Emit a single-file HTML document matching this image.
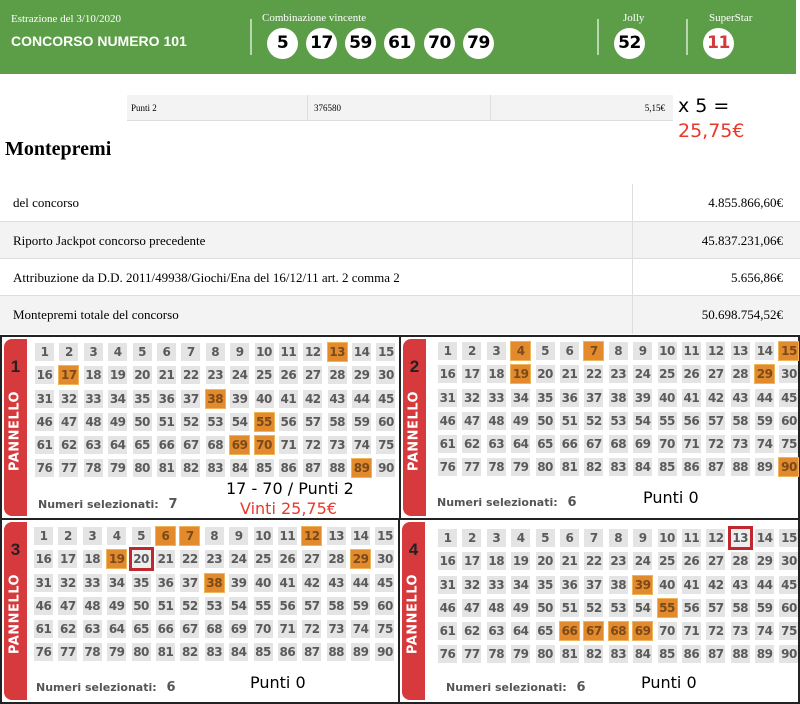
<!DOCTYPE html><html><head><meta charset="utf-8"><style>
*{margin:0;padding:0;box-sizing:border-box}
body{width:800px;height:702px;position:relative;background:#fff;overflow:hidden;font-family:"Liberation Serif",serif}
.a{position:absolute}
.hdr{left:0;top:0;width:796px;height:74px;background:#5c9e47;color:#fff}
.ball{position:absolute;width:31px;height:31px;border-radius:50%;background:#fff;color:#000;font:bold 17px "DejaVu Sans",sans-serif;text-align:center;line-height:31px;top:28px;letter-spacing:-.5px}
.dv{position:absolute;width:2px;background:#b9d7ae;top:19px;height:36px}
.pt{left:127px;top:95px;width:546px;height:26px;background:#f3f3f3;border-bottom:1px solid #ddd;font-size:9px}
.mt{left:0;width:800px;height:37px;font-size:13px;border-top:1px solid #ddd}
.mt span{position:absolute;left:13px;top:11px}
.mt b{position:absolute;right:17px;top:11px;font-weight:normal}
.mt i{position:absolute;left:632px;top:0;bottom:0;width:1px;background:#ddd}
.p{position:absolute;border:2px solid #222;background:#fff}
.tab{position:absolute;left:2px;top:2px;width:23px;bottom:2px;background:#d63a3c;border-radius:8px 0 0 8px}
.tab b{position:absolute;top:18px;width:100%;text-align:center;font:bold 17px "Liberation Sans",sans-serif;color:#222}
.tab em{position:absolute;left:11px;top:92px;transform:translate(-50%,-50%) rotate(-90deg);font:bold 13px "DejaVu Sans",sans-serif;color:#fff;font-style:normal;letter-spacing:.5px}
.g{position:absolute;display:grid;grid-template-columns:repeat(15,19px);column-gap:5.4px;row-gap:5.3px}
.g i{display:block;width:19px;height:18px;background:#e4e4e4;color:#5a5a5a;font:bold 12px "DejaVu Sans",sans-serif;font-style:normal;text-align:center;line-height:18px;letter-spacing:-.5px}
.g i.o{background:#e38a2d;color:#7a4a1a;box-shadow:0 0 0 1px #f0b55a}
.g i.r{box-shadow:0 0 0 3px #c0282e;background:#eee}
.ns{position:absolute;font:bold 11px "DejaVu Sans",sans-serif;color:#555}
.ns span{font-size:13px;margin-left:6px}
.big{position:absolute;font:16px "DejaVu Sans","Liberation Sans",sans-serif;color:#000}
</style></head><body>
<div class="a hdr">
<div class="a" style="left:11px;top:13px;font-size:11px">Estrazione del 3/10/2020</div>
<div class="a" style="left:11px;top:33px;font:bold 14px 'Liberation Sans',sans-serif">CONCORSO NUMERO 101</div>
<div class="dv" style="left:250px"></div>
<div class="a" style="left:262px;top:12px;font-size:11px">Combinazione vincente</div>
<div class="ball" style="left:267px">5</div><div class="ball" style="left:306px">17</div><div class="ball" style="left:345px">59</div><div class="ball" style="left:384px">61</div><div class="ball" style="left:424px">70</div><div class="ball" style="left:463px">79</div>
<div class="dv" style="left:597px"></div>
<div class="a" style="left:623px;top:12px;font-size:11px">Jolly</div>
<div class="ball" style="left:614px">52</div>
<div class="dv" style="left:686px"></div>
<div class="a" style="left:709px;top:12px;font-size:11px">SuperStar</div>
<div class="ball" style="left:703px;color:#d43a3a">11</div>
</div>
<div class="a pt"><span class="a" style="left:4px;top:8px">Punti 2</span><i class="a" style="left:180px;top:0;bottom:0;width:1px;background:#ddd"></i><span class="a" style="left:187px;top:8px">376580</span><i class="a" style="left:363px;top:0;bottom:0;width:1px;background:#ddd"></i><span class="a" style="right:8px;top:8px">5,15€</span></div>
<div class="a" style="left:678px;top:95px;font:19px 'DejaVu Sans',sans-serif">x 5 =</div>
<div class="a" style="left:678px;top:120px;font:19px 'DejaVu Sans',sans-serif;color:#e8392a">25,75€</div>
<div class="a" style="left:5px;top:138px;font-weight:bold;font-size:20px">Montepremi</div>
<div class="a mt" style="top:184px;border-top:none"><span>del concorso</span><b>4.855.866,60€</b><i></i></div>
<div class="a mt" style="top:221px;background:#f3f3f3"><span>Riporto Jackpot concorso precedente</span><b>45.837.231,06€</b><i></i></div>
<div class="a mt" style="top:258px"><span>Attribuzione da D.D. 2011/49938/Giochi/Ena del 16/12/11 art. 2 comma 2</span><b>5.656,86€</b><i></i></div>
<div class="a mt" style="top:295px;background:#f3f3f3;height:39px"><span>Montepremi totale del concorso</span><b>50.698.754,52€</b><i></i></div>

<div class="p" style="left:0;top:335px;width:401px;height:185px">
<div class="tab"><b>1</b><em>PANNELLO</em></div>
<div class="g" style="left:33px;top:6px"><i>1</i><i>2</i><i>3</i><i>4</i><i>5</i><i>6</i><i>7</i><i>8</i><i>9</i><i>10</i><i>11</i><i>12</i><i class="o">13</i><i>14</i><i>15</i><i>16</i><i class="o">17</i><i>18</i><i>19</i><i>20</i><i>21</i><i>22</i><i>23</i><i>24</i><i>25</i><i>26</i><i>27</i><i>28</i><i>29</i><i>30</i><i>31</i><i>32</i><i>33</i><i>34</i><i>35</i><i>36</i><i>37</i><i class="o">38</i><i>39</i><i>40</i><i>41</i><i>42</i><i>43</i><i>44</i><i>45</i><i>46</i><i>47</i><i>48</i><i>49</i><i>50</i><i>51</i><i>52</i><i>53</i><i>54</i><i class="o">55</i><i>56</i><i>57</i><i>58</i><i>59</i><i>60</i><i>61</i><i>62</i><i>63</i><i>64</i><i>65</i><i>66</i><i>67</i><i>68</i><i class="o">69</i><i class="o">70</i><i>71</i><i>72</i><i>73</i><i>74</i><i>75</i><i>76</i><i>77</i><i>78</i><i>79</i><i>80</i><i>81</i><i>82</i><i>83</i><i>84</i><i>85</i><i>86</i><i>87</i><i>88</i><i class="o">89</i><i>90</i></div>
<div class="ns" style="left:36px;top:160px">Numeri selezionati: <span>7</span></div>
<div class="big" style="left:224px;top:142px">17 - 70 / Punti 2</div>
<div class="big" style="left:238px;top:162px;color:#e8392a">Vinti 25,75€</div>
</div>

<div class="p" style="left:399px;top:335px;width:401px;height:185px">
<div class="tab"><b>2</b><em>PANNELLO</em></div>
<div class="g" style="left:37px;top:5px"><i>1</i><i>2</i><i>3</i><i class="o">4</i><i>5</i><i>6</i><i class="o">7</i><i>8</i><i>9</i><i>10</i><i>11</i><i>12</i><i>13</i><i>14</i><i class="o">15</i><i>16</i><i>17</i><i>18</i><i class="o">19</i><i>20</i><i>21</i><i>22</i><i>23</i><i>24</i><i>25</i><i>26</i><i>27</i><i>28</i><i class="o">29</i><i>30</i><i>31</i><i>32</i><i>33</i><i>34</i><i>35</i><i>36</i><i>37</i><i>38</i><i>39</i><i>40</i><i>41</i><i>42</i><i>43</i><i>44</i><i>45</i><i>46</i><i>47</i><i>48</i><i>49</i><i>50</i><i>51</i><i>52</i><i>53</i><i>54</i><i>55</i><i>56</i><i>57</i><i>58</i><i>59</i><i>60</i><i>61</i><i>62</i><i>63</i><i>64</i><i>65</i><i>66</i><i>67</i><i>68</i><i>69</i><i>70</i><i>71</i><i>72</i><i>73</i><i>74</i><i>75</i><i>76</i><i>77</i><i>78</i><i>79</i><i>80</i><i>81</i><i>82</i><i>83</i><i>84</i><i>85</i><i>86</i><i>87</i><i>88</i><i>89</i><i class="o">90</i></div>
<div class="ns" style="left:36px;top:158px">Numeri selezionati: <span>6</span></div>
<div class="big" style="left:242px;top:151px">Punti 0</div>
</div>

<div class="p" style="left:0;top:518px;width:401px;height:186px">
<div class="tab"><b>3</b><em>PANNELLO</em></div>
<div class="g" style="left:32px;top:7px"><i>1</i><i>2</i><i>3</i><i>4</i><i>5</i><i class="o">6</i><i class="o">7</i><i>8</i><i>9</i><i>10</i><i>11</i><i class="o">12</i><i>13</i><i>14</i><i>15</i><i>16</i><i>17</i><i>18</i><i class="o">19</i><i class="r">20</i><i>21</i><i>22</i><i>23</i><i>24</i><i>25</i><i>26</i><i>27</i><i>28</i><i class="o">29</i><i>30</i><i>31</i><i>32</i><i>33</i><i>34</i><i>35</i><i>36</i><i>37</i><i class="o">38</i><i>39</i><i>40</i><i>41</i><i>42</i><i>43</i><i>44</i><i>45</i><i>46</i><i>47</i><i>48</i><i>49</i><i>50</i><i>51</i><i>52</i><i>53</i><i>54</i><i>55</i><i>56</i><i>57</i><i>58</i><i>59</i><i>60</i><i>61</i><i>62</i><i>63</i><i>64</i><i>65</i><i>66</i><i>67</i><i>68</i><i>69</i><i>70</i><i>71</i><i>72</i><i>73</i><i>74</i><i>75</i><i>76</i><i>77</i><i>78</i><i>79</i><i>80</i><i>81</i><i>82</i><i>83</i><i>84</i><i>85</i><i>86</i><i>87</i><i>88</i><i>89</i><i>90</i></div>
<div class="ns" style="left:34px;top:160px">Numeri selezionati: <span>6</span></div>
<div class="big" style="left:248px;top:153px">Punti 0</div>
</div>

<div class="p" style="left:398px;top:518px;width:402px;height:186px">
<div class="tab"><b>4</b><em>PANNELLO</em></div>
<div class="g" style="left:38px;top:9px"><i>1</i><i>2</i><i>3</i><i>4</i><i>5</i><i>6</i><i>7</i><i>8</i><i>9</i><i>10</i><i>11</i><i>12</i><i class="r">13</i><i>14</i><i>15</i><i>16</i><i>17</i><i>18</i><i>19</i><i>20</i><i>21</i><i>22</i><i>23</i><i>24</i><i>25</i><i>26</i><i>27</i><i>28</i><i>29</i><i>30</i><i>31</i><i>32</i><i>33</i><i>34</i><i>35</i><i>36</i><i>37</i><i>38</i><i class="o">39</i><i>40</i><i>41</i><i>42</i><i>43</i><i>44</i><i>45</i><i>46</i><i>47</i><i>48</i><i>49</i><i>50</i><i>51</i><i>52</i><i>53</i><i>54</i><i class="o">55</i><i>56</i><i>57</i><i>58</i><i>59</i><i>60</i><i>61</i><i>62</i><i>63</i><i>64</i><i>65</i><i class="o">66</i><i class="o">67</i><i class="o">68</i><i class="o">69</i><i>70</i><i>71</i><i>72</i><i>73</i><i>74</i><i>75</i><i>76</i><i>77</i><i>78</i><i>79</i><i>80</i><i>81</i><i>82</i><i>83</i><i>84</i><i>85</i><i>86</i><i>87</i><i>88</i><i>89</i><i>90</i></div>
<div class="ns" style="left:46px;top:160px">Numeri selezionati: <span>6</span></div>
<div class="big" style="left:241px;top:153px">Punti 0</div>
</div>
</body></html>
